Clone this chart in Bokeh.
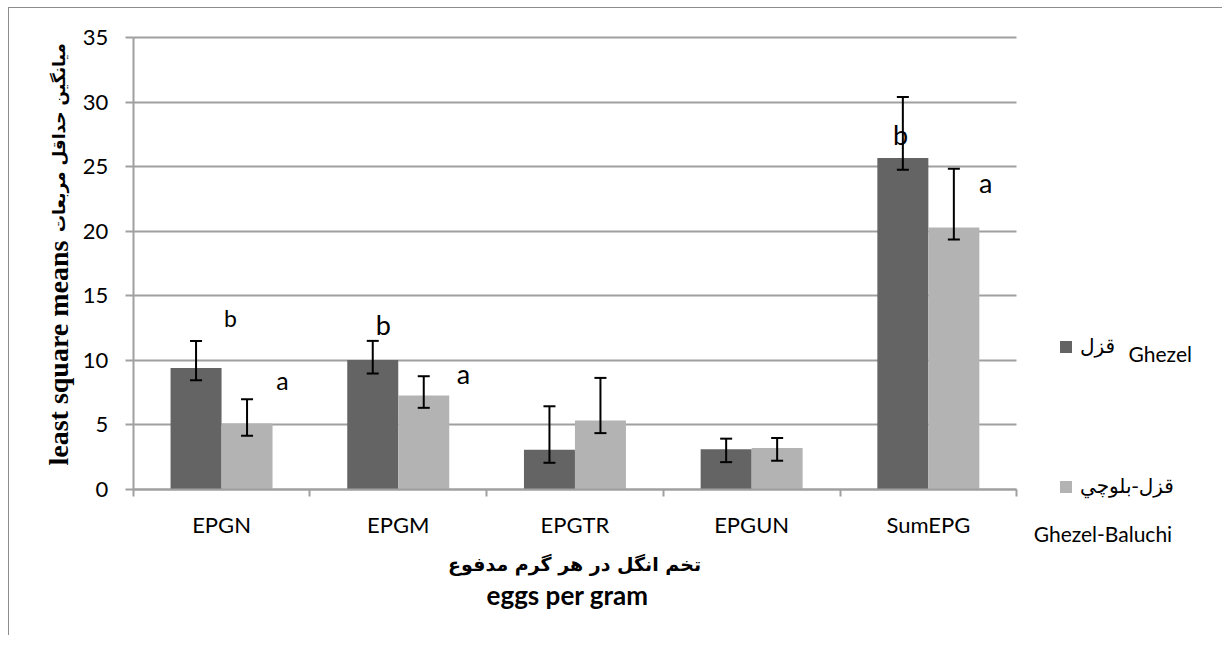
import math
from bokeh.plotting import figure
from bokeh.models import (Range1d, FixedTicker, Whisker, ColumnDataSource, Label,
                          Legend, LegendItem, TeeHead)
from bokeh.transform import dodge
from bokeh.embed import file_html
from bokeh.resources import INLINE

# ---------------- data ----------------
categories = ["EPGN", "EPGM", "EPGTR", "EPGUN", "SumEPG"]
ghezel = [9.39, 10.0, 3.05, 3.08, 25.66]
ghezel_lower = [8.44, 8.96, 2.04, 2.09, 24.75]
ghezel_upper = [11.49, 11.49, 6.42, 3.91, 30.4]
baluchi = [5.08, 7.26, 5.31, 3.18, 20.27]
baluchi_lower = [4.13, 6.30, 4.34, 2.20, 19.34]
baluchi_upper = [6.97, 8.75, 8.62, 3.96, 24.84]
y_ticks = [0, 5, 10, 15, 20, 25, 30, 35]

letters = ["b", "a", "b", "a", "b", "a"]
letter_cat = ["EPGN", "EPGN", "EPGM", "EPGM", "SumEPG", "SumEPG"]
letter_offset = [0.051, 0.345, -0.084, 0.369, -0.157, 0.324]
letter_y = [13.26, 8.44, 12.77, 8.98, 27.47, 23.75]
letter_size = ["23px", "25px", "27px", "27px", "27px", "27px"]

series_fa = ["قزل", "قزل-بلوچي"]
series_en = ["Ghezel", "Ghezel-Baluchi"]
y_title_en = "least square means"
y_title_fa = "میانگین حداقل مربعات"
x_title_fa = "تخم انگل در هر گرم مدفوع"
x_title_en = "eggs per gram"

# ---------------- layout / styles ----------------
DARK = "#646464"
LIGHT = "#b3b3b3"
GRID = "#a0a0a0"
BAR_W = 0.2886
HALF = BAR_W / 2

W, H = 1214, 628          # canvas size
CX, CY = 9, 8             # canvas origin on the page
X0, XU = 132.7, 176.7     # page x of category axis start, px per category
Y0, YU = 488.6, 12.9      # page y of value 0, px per unit

x_lo = (CX - X0) / XU
x_hi = (CX + W - X0) / XU
y_lo = (Y0 - (CY + H)) / YU
y_hi = (Y0 - CY) / YU

centers = [i + 0.5 for i in range(len(categories))]
src = ColumnDataSource(dict(
    x=centers, g=ghezel, gl=ghezel_lower, gu=ghezel_upper,
    b=baluchi, bl=baluchi_lower, bu=baluchi_upper,
    xg=[c - HALF for c in centers], xb=[c + HALF for c in centers],
))

p = figure(width=W, height=H, output_backend="svg", toolbar_location=None,
           x_range=Range1d(x_lo, x_hi), y_range=Range1d(y_lo, y_hi),
           min_border=0, min_border_left=0, min_border_right=0,
           min_border_top=0, min_border_bottom=0)
p.outline_line_color = None
p.background_fill_color = "white"
p.border_fill_color = "white"
p.styles = {"margin-top": "7px", "margin-left": "8px",
            "border-top": "1px solid #8c8c8c", "border-left": "1px solid #8c8c8c"}

r_g = p.vbar(x=dodge("x", -HALF), top="g", width=BAR_W, source=src,
             fill_color=DARK, line_color=None)
r_b = p.vbar(x=dodge("x", HALF), top="b", width=BAR_W, source=src,
             fill_color=LIGHT, line_color=None)

for base, lo, up in (("xg", "gl", "gu"), ("xb", "bl", "bu")):
    w = Whisker(source=src, base=base, lower=lo, upper=up, line_color="black",
                line_width=2, level="overlay",
                upper_head=TeeHead(size=12, line_color="black", line_width=2),
                lower_head=TeeHead(size=12, line_color="black", line_width=2))
    p.add_layout(w)

# significance letters
for t, c, off, yy, fs in zip(letters, letter_cat, letter_offset, letter_y, letter_size):
    xx = categories.index(c) + 0.5 + off
    p.add_layout(Label(x=xx, y=yy, text=t, text_align="center", text_baseline="middle",
                       text_font="Lato", text_font_size=fs, text_color="black"))

# ---------------- axes & grid ----------------
p.xgrid.visible = False
yg = p.ygrid[0]
yg.grid_line_color = GRID
yg.grid_line_width = 2
yg.bounds = (0, 35)
try:
    yg.cross_bounds = (0, len(categories))
except Exception:
    pass

xa = p.xaxis[0]
xa.fixed_location = 0
xa.bounds = (0, len(categories))
xa.ticker = FixedTicker(ticks=centers, minor_ticks=list(range(len(categories) + 1)))
xa.major_label_overrides = {c: n for c, n in zip(centers, categories)}
xa.axis_line_color = GRID
xa.axis_line_width = 2
xa.major_tick_line_color = None
xa.major_tick_out = 0
xa.major_tick_in = 0
xa.minor_tick_line_color = GRID
xa.minor_tick_line_width = 2
xa.minor_tick_out = 7
xa.minor_tick_in = 0
xa.major_label_text_font = "Lato"
xa.major_label_text_font_size = "22px"
xa.major_label_text_color = "black"
xa.major_label_standoff = 15

ya = p.yaxis[0]
ya.fixed_location = 0
ya.bounds = (0, 35)
ya.ticker = FixedTicker(ticks=y_ticks)
ya.axis_line_color = GRID
ya.axis_line_width = 2
ya.major_tick_line_color = GRID
ya.major_tick_line_width = 2
ya.major_tick_out = 8
ya.major_tick_in = 0
ya.minor_tick_line_color = None
ya.major_label_text_font = "Lato"
ya.major_label_text_font_size = "22px"
ya.major_label_text_color = "black"
ya.major_label_standoff = 17

# y axis title (Latin + Persian parts)
p.add_layout(Label(x=-0.42, y=10.55, text=y_title_en, angle=math.pi / 2,
                   text_align="center", text_baseline="middle",
                   text_font="Liberation Serif", text_font_style="bold",
                   text_font_size="28px", text_color="black"))
p.add_layout(Label(x=-0.42, y=27.25, text=y_title_fa, angle=math.pi / 2,
                   text_align="center", text_baseline="middle",
                   text_font="DejaVu Sans", text_font_style="bold",
                   text_font_size="17px", text_color="black"))

# x axis title (two lines)
p.add_layout(Label(x=2.498, y=-5.78, text=x_title_fa, text_align="center",
                   text_baseline="middle", text_font="DejaVu Sans",
                   text_font_style="bold", text_font_size="19px", text_color="black"))
p.add_layout(Label(x=2.458, y=-8.18, text=x_title_en, text_align="center",
                   text_baseline="middle", text_font="Lato",
                   text_font_style="bold", text_font_size="26px", text_color="black"))

# legend
legend = Legend(items=[LegendItem(label=series_fa[0], renderers=[r_g]),
                       LegendItem(label=series_fa[1], renderers=[r_b])],
                location=(1049, 138), orientation="vertical", spacing=116,
                glyph_width=15, glyph_height=15, label_standoff=7, padding=0,
                margin=0, border_line_color=None, background_fill_alpha=0,
                label_text_font="DejaVu Sans", label_text_font_size="20px",
                label_text_color="black", label_height=24)
p.add_layout(legend)

p.add_layout(Label(x=5.633, y=10.51, text=series_en[0], text_align="left",
                   text_baseline="middle", text_font="Lato", text_font_size="21px",
                   text_color="black"))
p.add_layout(Label(x=5.096, y=-3.44, text=series_en[1], text_align="left",
                   text_baseline="middle", text_font="Lato", text_font_size="21px",
                   text_color="black"))

open("out.html", "w").write(file_html(p, INLINE))
